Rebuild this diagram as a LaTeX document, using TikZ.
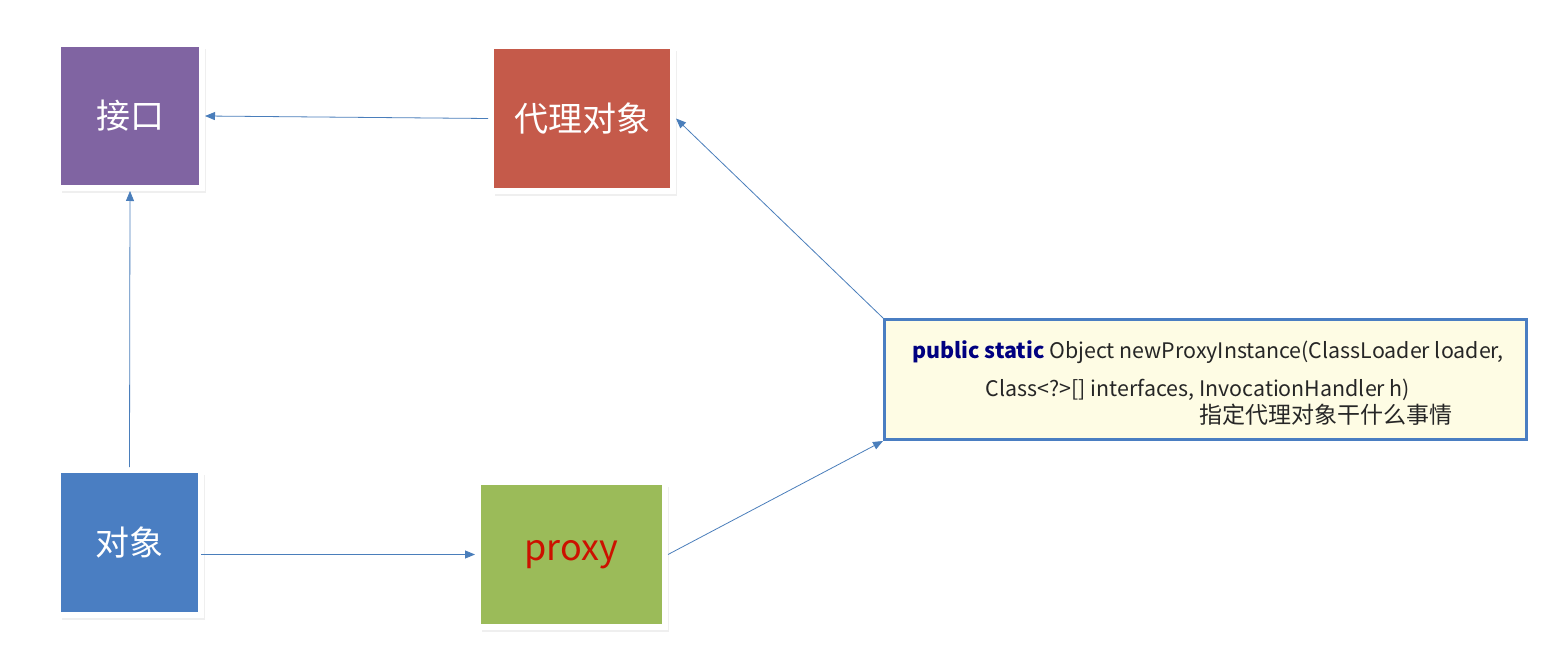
\documentclass[tikz,border=0pt]{standalone}
\usepackage{fontspec}
\newfontfamily\cjk{Noto Sans CJK SC}
\usetikzlibrary{arrows.meta,shadows}
\definecolor{ifpurple}{HTML}{8064A2}
\definecolor{pxred}{HTML}{C55A4A}
\definecolor{objblue}{HTML}{4A7EC2}
\definecolor{pgreen}{HTML}{9BBB59}
\definecolor{arrowblue}{HTML}{4A7EBB}
\definecolor{noteyellow}{HTML}{FEFCE4}
\definecolor{kwnavy}{HTML}{000080}
\definecolor{proxytext}{HTML}{CC1100}
\tikzset{
    every node/.style={font=\cjk},
    main node/.style={shape=rectangle, draw=white, line width=6pt,
    	text=white, font=\cjk\fontsize{34}{40}\selectfont,
    	drop shadow={shadow xshift=4pt, shadow yshift=-5pt, opacity=0.12}},
    method node/.style={shape=rectangle, draw=objblue, line width=3pt,
    	fill=noteyellow, minimum width=642pt, minimum height=120pt},
    code line/.style={font=\cjk\fontsize{21.4}{26}\selectfont, anchor=base}
}

\begin{document}
\begin{tikzpicture}[x=1pt,y=-1pt,->,>={Triangle[length=10pt,width=8pt]},arrowblue,line width=0.8pt]
    \useasboundingbox[fill=white] (0,0) rectangle (1567,663);

    \node[main node, fill=ifpurple, minimum width=144pt, minimum height=144pt] (jk) at (130,116) {接口};
    \node[main node, fill=pxred, minimum width=182pt, minimum height=145pt] (dl) at (582,118.5) {代理对象};
    \node[main node, fill=objblue, minimum width=143pt, minimum height=145pt] (dx) at (129.5,542.5) {对象};
    \node[main node, fill=pgreen, minimum width=187pt, minimum height=145pt, text=proxytext,
    	font=\cjk\fontsize{36}{42}\selectfont] (px) at (571.5,554.5) {proxy};

    \node[method node] (mb) at (1205.5,379.5) {};
    \node[code line] (l1) at (1208,358) {\textcolor{kwnavy}{\bfseries public static} \textcolor{black!85}{Object newProxyInstance(ClassLoader loader,}};
    \node[code line, text=black!85] (l2) at (1198,396) {Class<?>[] interfaces, InvocationHandler h)};
    \node[font=\cjk\fontsize{23}{28}\selectfont, text=black!85] (l3) at (1326,415) {指定代理对象干什么事情};

    \draw (dl.west) -- (jk.east);
    \draw (dx.north) -- (jk.south);
    \draw ([xshift=-3pt]dx.east |- px.west) -- (px.west);
    \draw (px.east) -- (mb.south west);
    \draw (mb.north west) -- (dl.east);
    
\end{tikzpicture}
\end{document}
